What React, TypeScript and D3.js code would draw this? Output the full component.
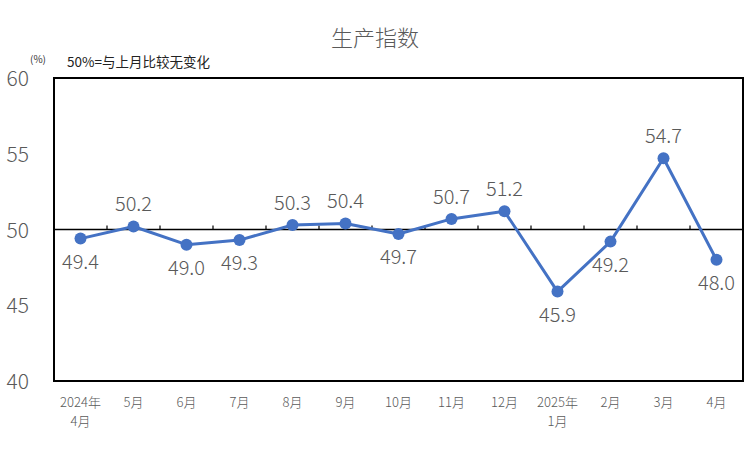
import React from "react";
import * as d3 from "d3";

const categories: string[][] = [
  ["2024年", "4月"], ["5月"], ["6月"], ["7月"], ["8月"], ["9月"], ["10月"],
  ["11月"], ["12月"], ["2025年", "1月"], ["2月"], ["3月"], ["4月"],
];
const values: number[] = [49.4, 50.2, 49.0, 49.3, 50.3, 50.4, 49.7, 50.7, 51.2, 45.9, 49.2, 54.7, 48.0];
const labelPos: string[] = ["below", "above", "below", "below", "above", "above", "below", "above", "above", "below", "below", "above", "below"];
const yTicks: number[] = [40, 45, 50, 55, 60];
const title = "生产指数";
const note = "50%=与上月比较无变化";

const W = 750, H = 450;
const L = 54, R = 743, T = 78, B = 381;
const FONT = "'Noto Sans CJK SC', 'Noto Sans', sans-serif";

export default function App() {
  const x = d3.scaleBand<number>().domain(d3.range(values.length)).range([L, R]);
  const y = d3.scaleLinear().domain([40, 60]).range([B, T]);
  const cx = (i: number) => (x(i) as number) + x.bandwidth() / 2;
  const line = d3.line<number>().x((_, i) => cx(i)).y((d) => y(d));
  const y50 = y(50);
  return (
    <svg width={W} height={H} style={{ position: "absolute", left: 0, top: 0 }}>
      <rect x={0} y={0} width={W} height={H} fill="#fff" />
      <text x={375} y={46} textAnchor="middle" fontSize={22} fontWeight={300} fill="#595959" fontFamily={FONT}>{title}</text>
      <text x={30} y={63} fontSize={10} fill="#333" fontFamily={FONT}>(%)</text>
      <text x={67} y={67} fontSize={13.5} fill="#222" fontFamily={FONT}>{note}</text>
      {yTicks.map((t) => (
        <text key={t} x={29} y={y(t) + 8} textAnchor="end" fontSize={21} fontWeight={300} fill="#595959" fontFamily={FONT}>{t}</text>
      ))}
      <line x1={L} x2={R} y1={y50} y2={y50} stroke="#000" strokeWidth={1.5} />
      {d3.range(1, values.length).map((i) => (
        <line key={i} x1={x(i) as number} x2={x(i) as number} y1={y50} y2={y50 - 4} stroke="#000" strokeWidth={1.2} />
      ))}
      <rect x={L} y={T} width={R - L} height={B - T} fill="none" stroke="#000" strokeWidth={2} />
      <path d={line(values) || ""} fill="none" stroke="#4472C4" strokeWidth={3} strokeLinejoin="round" />
      {values.map((v, i) => (
        <circle key={i} cx={cx(i)} cy={y(v)} r={6} fill="#4472C4" />
      ))}
      {values.map((v, i) => (
        <text key={"l" + i} x={cx(i)} y={labelPos[i] === "above" ? y(v) - 15 : y(v) + 30}
          textAnchor="middle" fontSize={20} fontWeight={300} fill="#595959" fontFamily={FONT}>{v.toFixed(1)}</text>
      ))}
      {categories.map((c, i) => c.map((s, j) => (
        <text key={i + "-" + j} x={cx(i)} y={407 + j * 19} textAnchor="middle" fontSize={13} fontWeight={300} fill="#595959" fontFamily={FONT}>{s}</text>
      )))}
    </svg>
  );
}
